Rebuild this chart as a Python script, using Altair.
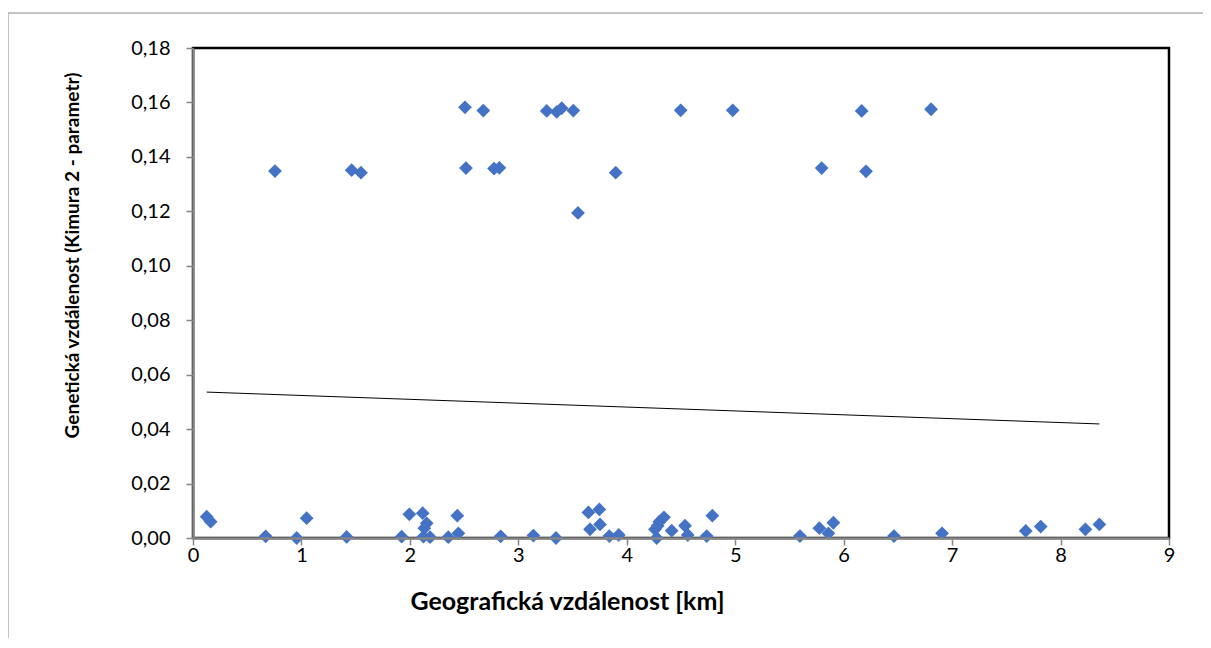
import altair as alt
import pandas as pd

# Geographic distance [km] and genetic distance (Kimura 2-parameter)
dist_km = [
    0.756, 1.463, 1.549, 2.508, 2.517, 2.677, 2.776, 2.825, 3.262, 3.354,
    3.400, 3.507, 3.550, 3.898, 4.497, 4.977, 5.797, 6.166, 6.206, 6.806,
    0.126, 0.163, 0.670, 0.956, 1.048, 1.417, 1.924, 1.995, 2.118, 2.155,
    2.133, 2.125, 2.186, 2.354, 2.437, 2.447, 2.837, 3.139, 3.347, 3.646,
    3.747, 3.661, 3.753, 3.839, 3.926, 4.276, 4.260, 4.300, 4.343, 4.414,
    4.537, 4.562, 4.737, 4.789, 5.597, 5.776, 5.859, 5.905, 6.464, 6.907,
    7.679, 7.817, 8.229, 8.358, 4.285,
]
gen_dist = [
    0.1348, 0.1351, 0.1342, 0.1582, 0.1359, 0.1570, 0.1357, 0.1360, 0.1569, 0.1565,
    0.1579, 0.1570, 0.1194, 0.1342, 0.1571, 0.1571, 0.1359, 0.1569, 0.1347, 0.1575,
    0.0078, 0.0060, 0.0006, 0.0000, 0.0073, 0.0004, 0.0005, 0.0087, 0.0091, 0.0054,
    0.0036, 0.0005, 0.0003, 0.0003, 0.0082, 0.0017, 0.0006, 0.0009, 0.0000, 0.0094,
    0.0105, 0.0032, 0.0050, 0.0007, 0.0011, 0.0000, 0.0032, 0.0060, 0.0076, 0.0027,
    0.0045, 0.0011, 0.0007, 0.0082, 0.0007, 0.0036, 0.0017, 0.0056, 0.0007, 0.0017,
    0.0026, 0.0042, 0.0032, 0.0050, 0.0045,
]

# Linear trend line end points
trend_x = [0.126, 8.358]
trend_y = [0.0536, 0.0419]

x_ticks = [0, 1, 2, 3, 4, 5, 6, 7, 8, 9]
y_ticks = [0.00, 0.02, 0.04, 0.06, 0.08, 0.10, 0.12, 0.14, 0.16, 0.18]

pts = pd.DataFrame({"x": dist_km, "y": gen_dist})
trend = pd.DataFrame({"x": trend_x, "y": trend_y})

FONT = "Lato"
W, H = 976, 490

xscale = alt.Scale(domain=[0, 9], nice=False, zero=False)
yscale = alt.Scale(domain=[0, 0.18], nice=False, zero=False)

xaxis = alt.Axis(
    values=x_ticks, grid=False, title="Geografická vzdálenost  [km]",
    labelExpr="format(datum.value, 'd')", labelFlush=False,
    labelFont=FONT, labelFontSize=20, labelColor="#000000", labelPadding=0,
    tickColor="#868686", tickSize=7, tickWidth=1.5,
    domainColor="#868686", domainWidth=2.5,
    titleFont=FONT, titleFontSize=25, titleFontWeight="bold", titleColor="#000000",
    titleX=374, titleY=63, titleBaseline="middle", titleAlign="center",
    zindex=1,
)
yaxis = alt.Axis(
    values=y_ticks, grid=False, title="Genetická vzdálenost (Kimura 2 - parametr)",
    labelExpr="replace(format(datum.value, '.2f'), '.', ',')", labelFlush=False,
    labelFont=FONT, labelFontSize=20, labelColor="#000000", labelPadding=16,
    tickColor="#868686", tickSize=7, tickWidth=1.5,
    domainColor="#868686", domainWidth=2.5,
    titleFont=FONT, titleFontSize=19, titleFontWeight="bold", titleColor="#000000",
    titleX=-121, titleY=207, titleBaseline="middle", titleAlign="center", titleAngle=270,
    zindex=1,
)

frame_top = alt.Chart(pd.DataFrame({"a": [0]})).mark_rule(
    color="#B0B0B0", strokeWidth=1.5
).encode(x=alt.value(-186), x2=alt.value(1100), y=alt.value(-35))

frame_left = alt.Chart(pd.DataFrame({"a": [0]})).mark_rule(
    color="#B0B0B0", strokeWidth=1.5
).encode(x=alt.value(-185), y=alt.value(-35), y2=alt.value(700))

points = alt.Chart(pts).mark_point(
    shape="diamond", filled=True, size=190, color="#4472C4", opacity=1
).encode(
    x=alt.X("x:Q", scale=xscale, axis=xaxis),
    y=alt.Y("y:Q", scale=yscale, axis=yaxis),
)

line = alt.Chart(trend).mark_line(color="#000000", strokeWidth=1).encode(
    x=alt.X("x:Q", scale=xscale),
    y=alt.Y("y:Q", scale=yscale),
)

chart = alt.layer(frame_top, frame_left, line, points).properties(
    width=W, height=H,
    autosize=alt.AutoSizeParams(type="none"),
    padding={"left": 185, "top": 40, "right": 34, "bottom": 100},
    background="white",
).configure_view(stroke="#000000", strokeWidth=2.5)

chart.save("out.html", embed_options={"renderer": "svg", "actions": False})
